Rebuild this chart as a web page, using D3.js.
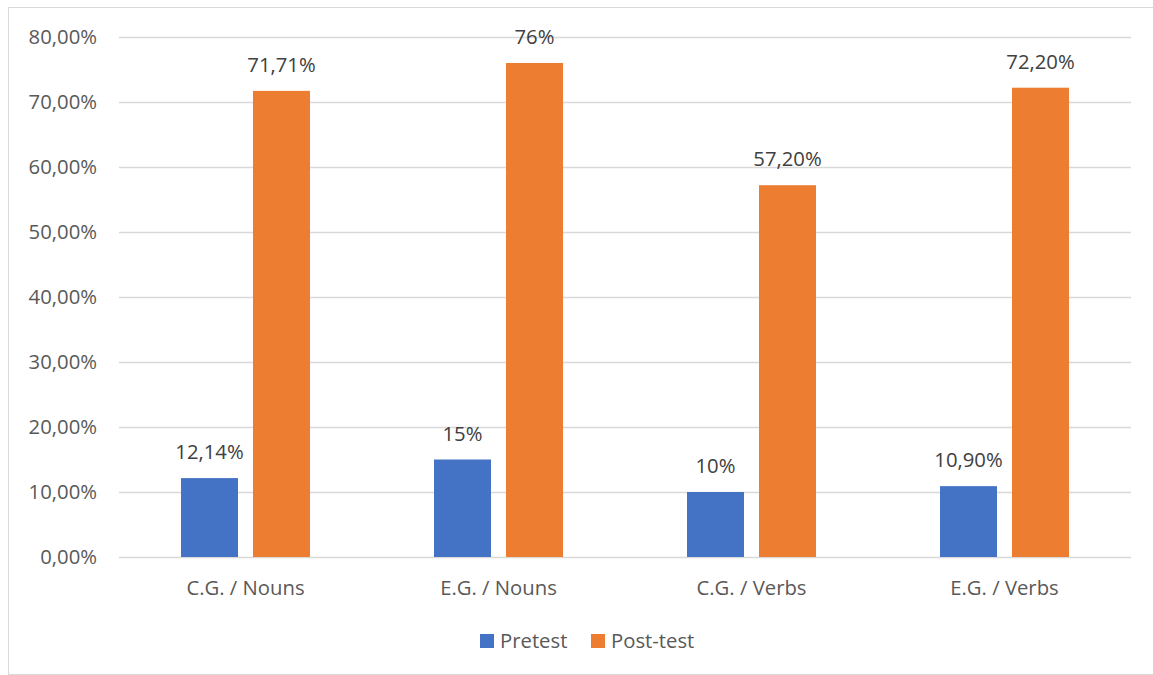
<!DOCTYPE html>
<html>
<head>
<meta charset="utf-8">
<script src="https://cdn.jsdelivr.net/npm/d3@7"></script>
<style>
  html, body { margin: 0; padding: 0; background: #ffffff; }
  svg { display: block; }
  text { font-family: "Open Sans", "Noto Sans", sans-serif; }
</style>
</head>
<body>
<svg id="chart" width="1153" height="675"></svg>
<script>
const categories = ["C.G. / Nouns", "E.G. / Nouns", "C.G. / Verbs", "E.G. / Verbs"];
const seriesNames = ["Pretest", "Post-test"];
const pretest = [12.14, 15, 10, 10.90];
const posttest = [71.71, 76, 57.20, 72.20];
const pretestLabels = ["12,14%", "15%", "10%", "10,90%"];
const posttestLabels = ["71,71%", "76%", "57,20%", "72,20%"];
const yTicks = [0, 10, 20, 30, 40, 50, 60, 70, 80];
const yTickLabels = ["0,00%", "10,00%", "20,00%", "30,00%", "40,00%", "50,00%", "60,00%", "70,00%", "80,00%"];
const colors = ["#4472C4", "#ED7D31"];

(function () {
const svg = d3.select("#chart");
const fs = 20.3;

// chart border
svg.append("rect")
  .attr("x", 8.5).attr("y", 7.5)
  .attr("width", 1153).attr("height", 667)
  .attr("fill", "none").attr("stroke", "#d9d9d9").attr("stroke-width", 1);

const pLeft = 119, pRight = 1131, pTop = 37, pBottom = 557;

const x0 = d3.scaleBand().domain(categories).range([pLeft, pRight]).paddingInner(0).paddingOuter(0);
const x1 = d3.scaleBand().domain(seriesNames).range([0, x0.bandwidth()])
  .paddingInner(15 / 72).paddingOuter(0.861);
const y = d3.scaleLinear().domain([0, 80]).range([pBottom, pTop]);

// gridlines
svg.append("g").selectAll("line").data(yTicks).join("line")
  .attr("x1", pLeft).attr("x2", pRight)
  .attr("y1", d => Math.round(y(d)) + 0.5).attr("y2", d => Math.round(y(d)) + 0.5)
  .attr("stroke", "#d9d9d9").attr("stroke-width", 1.3);

// y labels
svg.append("g").selectAll("text").data(yTicks).join("text")
  .attr("x", 97).attr("y", d => y(d))
  .attr("dy", "0.35em")
  .attr("text-anchor", "end")
  .attr("font-size", fs)
  .attr("fill", "#595959")
  .text((d, i) => yTickLabels[i]);

const data = categories.map((c, i) => ({
  cat: c,
  vals: [
    { s: seriesNames[0], v: pretest[i], lab: pretestLabels[i], col: colors[0] },
    { s: seriesNames[1], v: posttest[i], lab: posttestLabels[i], col: colors[1] }
  ]
}));

const groups = svg.append("g").selectAll("g").data(data).join("g")
  .attr("transform", d => `translate(${x0(d.cat)},0)`);

groups.selectAll("rect").data(d => d.vals).join("rect")
  .attr("x", d => x1(d.s))
  .attr("y", d => y(d.v))
  .attr("width", x1.bandwidth())
  .attr("height", d => pBottom - y(d.v))
  .attr("fill", d => d.col);

groups.selectAll("text.val").data(d => d.vals).join("text")
  .attr("class", "val")
  .attr("x", d => x1(d.s) + x1.bandwidth() / 2)
  .attr("y", d => y(d.v) - 19)
  .attr("text-anchor", "middle")
  .attr("font-size", fs)
  .attr("fill", "#404040")
  .text(d => d.lab);

// category labels
svg.append("g").selectAll("text").data(categories).join("text")
  .attr("x", d => x0(d) + x0.bandwidth() / 2)
  .attr("y", 595)
  .attr("text-anchor", "middle")
  .attr("font-size", fs)
  .attr("fill", "#595959")
  .text(d => d);

// legend
const legendItems = [
  { name: seriesNames[0], col: colors[0], x: 480 },
  { name: seriesNames[1], col: colors[1], x: 591 }
];
const lg = svg.append("g").selectAll("g").data(legendItems).join("g")
  .attr("transform", d => `translate(${d.x},0)`);
lg.append("rect").attr("x", 0).attr("y", 634).attr("width", 14).attr("height", 14).attr("fill", d => d.col);
lg.append("text").attr("x", 20).attr("y", 648)
  .attr("font-size", fs).attr("fill", "#595959").text(d => d.name);
})();
</script>
</body>
</html>
